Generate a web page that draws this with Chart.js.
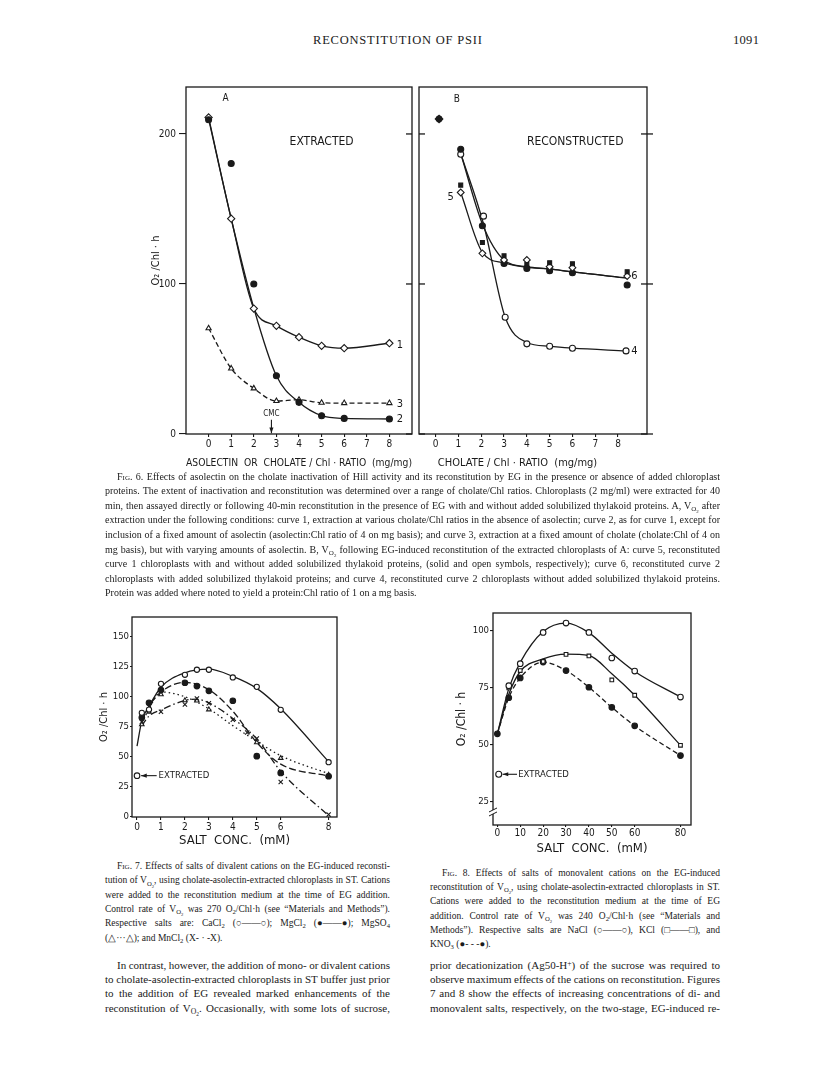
<!DOCTYPE html>
<html>
<head>
<meta charset="utf-8">
<script src="https://cdn.jsdelivr.net/npm/chart.js@4.4.0/dist/chart.umd.min.js"></script>
<style>
  body { margin: 0; background: #fff; }
  #page { position: relative; width: 816px; height: 1073px; overflow: hidden; background: #fff;
          font-family: 'Liberation Serif', 'Times New Roman', serif; color: #1a1a1a; }
  canvas { position: absolute; }
  .abs { position: absolute; white-space: nowrap; }
  .hdr { font-size: 12.5px; letter-spacing: 0.8px; }
  .blk { position: absolute; }
  .ln { white-space: nowrap; }
  .ind { padding-left: 12px; }
  .sc { font-variant: small-caps; }
  sub, sup { font-size: 70%; line-height: 0; }
  sub { vertical-align: -0.35em; }
  sup { vertical-align: 0.45em; }
</style>
</head>
<body>
<div id="page">
  <div class="abs hdr" style="left:313px;top:33px;">RECONSTITUTION OF PSII</div>
  <div class="abs hdr" style="left:733px;top:33px;letter-spacing:0.3px;">1091</div>

  <canvas id="fig6a" width="320" height="420" style="left:100px;top:60px;"></canvas>
  <canvas id="fig6b" width="260" height="420" style="left:400px;top:60px;"></canvas>
  <canvas id="fig7" width="260" height="265" style="left:90px;top:590px;"></canvas>
  <canvas id="fig8" width="255" height="280" style="left:450px;top:586px;"></canvas>

  <div class="blk" style="left:105px;top:469.7px;width:615px;font-size:10px;line-height:14.6px;">
    <div class="ln ind"><span class="sc">Fig.</span> 6. Effects of asolectin on the cholate inactivation of Hill activity and its reconstitution by EG in the presence or absence of added chloroplast</div>
    <div class="ln">proteins. The extent of inactivation and reconstitution was determined over a range of cholate/Chl ratios. Chloroplasts (2 mg/ml) were extracted for 40</div>
    <div class="ln">min, then assayed directly or following 40-min reconstitution in the presence of EG with and without added solubilized thylakoid proteins. A, V<sub>O<sub>2</sub></sub> after</div>
    <div class="ln">extraction under the following conditions: curve 1, extraction at various cholate/Chl ratios in the absence of asolectin; curve 2, as for curve 1, except for</div>
    <div class="ln">inclusion of a fixed amount of asolectin (asolectin:Chl ratio of 4 on mg basis); and curve 3, extraction at a fixed amount of cholate (cholate:Chl of 4 on</div>
    <div class="ln">mg basis), but with varying amounts of asolectin. B, V<sub>O<sub>2</sub></sub> following EG-induced reconstitution of the extracted chloroplasts of A: curve 5, reconstituted</div>
    <div class="ln">curve 1 chloroplasts with and without added solubilized thylakoid proteins, (solid and open symbols, respectively); curve 6, reconstituted curve 2</div>
    <div class="ln">chloroplasts with added solubilized thylakoid proteins; and curve 4, reconstituted curve 2 chloroplasts without added solubilized thylakoid proteins.</div>
    <div class="ln end">Protein was added where noted to yield a protein:Chl ratio of 1 on a mg basis.</div>
  </div>

  <div class="blk" style="left:105px;top:858.8px;width:285px;font-size:9.5px;line-height:14.4px;">
    <div class="ln ind"><span class="sc">Fig.</span> 7. Effects of salts of divalent cations on the EG-induced reconsti-</div>
    <div class="ln">tution of V<sub>O<sub>2</sub></sub>, using cholate-asolectin-extracted chloroplasts in ST. Cations</div>
    <div class="ln">were added to the reconstitution medium at the time of EG addition.</div>
    <div class="ln">Control rate of V<sub>O<sub>2</sub></sub> was 270 O<sub>2</sub>/Chl·h (see “Materials and Methods”).</div>
    <div class="ln">Respective salts are: CaCl<sub>2</sub> (○——○); MgCl<sub>2</sub> (●——●); MgSO<sub>4</sub></div>
    <div class="ln end">(△···△); and MnCl<sub>2</sub> (X- · -X).</div>
  </div>

  <div class="blk" style="left:430px;top:865.9px;width:290px;font-size:9.5px;line-height:14.2px;">
    <div class="ln ind"><span class="sc">Fig.</span> 8. Effects of salts of monovalent cations on the EG-induced</div>
    <div class="ln">reconstitution of V<sub>O<sub>2</sub></sub>, using cholate-asolectin-extracted chloroplasts in ST.</div>
    <div class="ln">Cations were added to the reconstitution medium at the time of EG</div>
    <div class="ln">addition. Control rate of V<sub>O<sub>2</sub></sub> was 240 O<sub>2</sub>/Chl·h (see “Materials and</div>
    <div class="ln">Methods”). Respective salts are NaCl (○——○), KCl (□——□), and</div>
    <div class="ln end">KNO<sub>3</sub> (●- - -●).</div>
  </div>

  <div class="blk" style="left:105px;top:957.8px;width:285px;font-size:11px;line-height:14.3px;">
    <div class="ln ind">In contrast, however, the addition of mono- or divalent cations</div>
    <div class="ln">to cholate-asolectin-extracted chloroplasts in ST buffer just prior</div>
    <div class="ln">to the addition of EG revealed marked enhancements of the</div>
    <div class="ln">reconstitution of V<sub>O<sub>2</sub></sub>. Occasionally, with some lots of sucrose,</div>
  </div>

  <div class="blk" style="left:430px;top:957.8px;width:290px;font-size:11px;line-height:14.3px;">
    <div class="ln">prior decationization (Ag50-H<sup>+</sup>) of the sucrose was required to</div>
    <div class="ln">observe maximum effects of the cations on reconstitution. Figures</div>
    <div class="ln">7 and 8 show the effects of increasing concentrations of di- and</div>
    <div class="ln">monovalent salts, respectively, on the two-stage, EG-induced re-</div>
  </div>
</div>

<script>
// Fig. 6A  extracted chloroplasts
const ratioA = [0, 1, 2, 3, 4, 5, 6, 8];
const curve1 = [211, 143.5, 83.6, 72.1, 64.5, 58.8, 57.2, 60.5];      // open diamonds
const curve2 = [209.5, 180.3, 100, 38.8, 21.1, 12.2, 10.4, 10];       // filled circles
const curve3 = [70.5, 43.7, 30.4, 22, 22.8, 20.8, 20.6, 20.6];        // open triangles
const curve2Line = [210, 143.5, 84, 38.8, 21.1, 12.2, 10.4, 10];      // drawn curve 2
const xTicks6 = [0, 1, 2, 3, 4, 5, 6, 7, 8];
const yTicks6 = [0, 100, 200];

// Fig. 6B  reconstructed
const ratioB0 = [0.15];
const controlB = [210];
const ratioB = [1.1, 2.05, 3, 4, 5, 6, 8.4];
const curve5Open = [161, 120.4, 116, 116, 111.5, 110.9, 105.3];
const curve5Solid = [165.9, 127.7, 118.8, 113, 114.2, 113.5, 108.2];
const curve6 = [189.8, 138.8, 113.7, 110.4, 108.9, 107.5, 99.3];
const ratio4 = [1.1, 2.1, 3.05, 4, 5, 6, 8.35];
const curve4 = [186.5, 145.2, 77.8, 60.1, 58.5, 57.2, 55.4];
const curve5Line = [161, 121, 114, 111, 110, 108, 104];
const curve6Line = [187, 140, 116, 111.5, 110, 108, 104];
const curve4Line = [187, 140, 77.8, 61, 58.5, 57.2, 55.4];

// Fig. 7  divalent salts (mM)
const saltDi = [0.2, 0.5, 1, 2, 2.5, 3, 4, 5, 6, 8];
const cacl2 = [86.7, 89.4, 110.8, 118.3, 122.5, 122.5, 116.1, 108.3, 89.2, 45.6];
const mgcl2 = [82.8, 95, 105.6, 111.7, 108.9, 105, 96.7, 50.6, 36.7, 33.9];
const saltMgSO4 = [0.2, 0.5, 1, 2, 2.5, 3, 5, 6, 8];
const mgso4 = [77, 87.5, 102, 97, 96.7, 89.4, 62, 49, 35];
const saltMnCl2 = [0.2, 1, 2, 2.5, 3, 4, 4.6, 5, 6, 8];
const mncl2 = [79, 87.5, 93.6, 98.6, 94.7, 81, 70.3, 65.3, 29.2, 2];
const cacl2LineX = [0, 0.2, 0.5, 1, 2, 3, 4, 5, 6, 8];
const cacl2Line = [59, 80, 92, 108, 120, 123, 117, 107, 90, 46];
const fitDiX = [0.2, 0.5, 1, 2, 3, 4, 5, 6, 8];
const mgcl2Line = [80, 92, 104, 112, 106, 88, 62, 44, 34];
const mgso4Line = [78, 90, 104, 100, 90, 76, 63, 51, 36];
const mncl2LineX = [0.2, 0.5, 1, 2, 2.5, 3, 4, 5, 6, 8];
const mncl2Line = [76, 84, 89, 97, 98, 95, 82, 65, 38, 1];
const extractedDi = [34.4];
const xTicks7 = [0, 1, 2, 3, 4, 5, 6, 8];
const yTicks7 = [0, 25, 50, 75, 100, 125, 150];

// Fig. 8  monovalent salts (mM)
const saltMono = [0, 5, 10, 20, 30, 40, 50, 60, 80];
const saltMonoPts = [5, 10, 20, 30, 40, 50, 60, 80];
const nacl = [75.8, 85.4, 99.1, 103.2, 99.1, 87.9, 82.2, 70.8];
const kcl = [74.8, 82.4, 86.4, 89.5, 88.8, 78.3, 71.6, 49.7];
const kno3 = [54.7, 70.5, 79.2, 86.1, 82.4, 75.1, 66.3, 58.2, 45.2];
const naclLine = [54.7, 74.5, 86, 99.5, 103.2, 99, 90, 82, 70.8];
const kclLine = [54.7, 72, 82, 87.5, 89.6, 89, 81, 71.6, 49.7];
const extractedMono = [37];
const xTicks8 = [0, 10, 20, 30, 40, 50, 60, 80];
const yTicks8 = [25, 50, 75, 100];

const INK = '#1a1a1a';
const LAB = "'Liberation Sans Narrow', 'DejaVu Sans Condensed', 'Liberation Sans', sans-serif";

const pts = (xs, ys) => xs.map((x, i) => ({ x: x, y: ys[i] }));

function marks(xs, ys, style, fill, r) {
  return { data: pts(xs, ys), showLine: false, pointStyle: style, pointRadius: r,
           pointBackgroundColor: fill, pointBorderColor: INK, pointBorderWidth: 1.1, order: 0 };
}
function curve(xs, ys, dash) {
  return { data: pts(xs, ys), showLine: true, pointRadius: 0, borderColor: INK, borderWidth: 1.3,
           borderDash: dash || [], cubicInterpolationMode: 'monotone', order: 1 };
}

// frame, inner ticks, labels and arrows
const decor = {
  id: 'decor',
  afterDatasetsDraw(chart, args, o) {
    const { ctx, chartArea: a, scales: { x, y } } = chart;
    ctx.save();
    ctx.strokeStyle = INK;
    ctx.fillStyle = INK;
    ctx.lineWidth = 1.3;
    ctx.strokeRect(a.left, a.top, a.right - a.left, a.bottom - a.top);
    (o.side || []).forEach(s => {
      const px = s.at === 'left' ? a.left : a.right;
      y.ticks.forEach(t => {
        const py = y.getPixelForValue(t.value);
        ctx.beginPath(); ctx.moveTo(px + s.from, py); ctx.lineTo(px + s.to, py); ctx.stroke();
      });
    });
    if (o.brk != null) {
      const py = y.getPixelForValue(o.brk);
      ctx.fillStyle = '#fff';
      ctx.fillRect(a.left - 2, py - 2, 4, 4);
      ctx.fillStyle = INK;
      ctx.lineWidth = 1;
      [-2, 2].forEach(d => {
        ctx.beginPath(); ctx.moveTo(a.left - 4, py + d + 2); ctx.lineTo(a.left + 4, py + d - 2); ctx.stroke();
      });
    }
    ctx.lineWidth = 1.1;
    (o.arrows || []).forEach(r => {
      const x1 = x.getPixelForValue(r.x1), y1 = y.getPixelForValue(r.y1);
      const x2 = x.getPixelForValue(r.x2), y2 = y.getPixelForValue(r.y2);
      const ang = Math.atan2(y2 - y1, x2 - x1);
      ctx.beginPath(); ctx.moveTo(x1, y1); ctx.lineTo(x2, y2); ctx.stroke();
      ctx.beginPath();
      ctx.moveTo(x2, y2);
      ctx.lineTo(x2 - 6 * Math.cos(ang - 0.35), y2 - 6 * Math.sin(ang - 0.35));
      ctx.lineTo(x2 - 6 * Math.cos(ang + 0.35), y2 - 6 * Math.sin(ang + 0.35));
      ctx.closePath(); ctx.fill();
    });
    (o.notes || []).forEach(n => {
      ctx.font = (n.size || 11) + 'px ' + LAB;
      ctx.textAlign = n.align || 'center';
      ctx.textBaseline = 'middle';
      ctx.fillText(n.text, x.getPixelForValue(n.x), y.getPixelForValue(n.y));
    });
    ctx.restore();
  }
};

function drawFigure(id, c) {
  return new Chart(document.getElementById(id), {
    type: 'scatter',
    data: { datasets: c.datasets },
    options: {
      responsive: false,
      animation: false,
      events: [],
      layout: { padding: c.pad },
      plugins: { legend: { display: false }, tooltip: { enabled: false }, decor: c.decor },
      scales: {
        x: {
          type: 'linear', min: c.x.min, max: c.x.max,
          afterBuildTicks: s => { s.ticks = c.x.ticks.map(v => ({ value: v })); },
          afterFit: s => { s.height = c.x.h; },
          ticks: { color: INK, font: { family: LAB, size: c.x.fs }, padding: c.x.tp, maxRotation: 0, autoSkip: false },
          grid: { display: true, drawOnChartArea: false, tickLength: c.x.tl, color: INK, lineWidth: 1.1 },
          border: { display: false },
          title: { display: !!c.x.title, text: c.x.title, align: c.x.ta || 'center', color: INK,
                   font: { family: LAB, size: c.x.ts }, padding: 0 }
        },
        y: {
          type: 'linear', min: c.y.min, max: c.y.max,
          afterBuildTicks: s => { s.ticks = c.y.ticks.map(v => ({ value: v })); },
          afterFit: s => { s.width = c.y.w; },
          ticks: { display: c.y.labels !== false, color: INK, font: { family: LAB, size: c.y.fs }, padding: c.y.tp },
          grid: { display: c.y.tl > 0, drawOnChartArea: false, tickLength: c.y.tl, color: INK, lineWidth: 1.1 },
          border: { display: false },
          title: { display: !!c.y.title, text: c.y.title, color: INK, font: { family: LAB, size: c.y.ts }, padding: 0 }
        }
      }
    },
    plugins: [decor]
  });
}

drawFigure('fig6a', {
  pad: { left: 50, top: 27, right: 8, bottom: 10 },
  x: { min: -1, max: 9, ticks: xTicks6, h: 36, fs: 10, tp: 1, tl: 3,
       title: 'ASOLECTIN  OR  CHOLATE / Chl · RATIO  (mg/mg)', ts: 11 },
  y: { min: 0, max: 231.3, ticks: yTicks6, w: 36, fs: 10, tp: 3, tl: 7, title: 'O₂ /Chl · h', ts: 11 },
  decor: {
    side: [{ at: 'right', from: 0, to: -6 }],
    arrows: [{ x1: 2.78, y1: 9.5, x2: 2.78, y2: 0.5 }],
    notes: [
      { x: 0.75, y: 224, text: 'A', size: 10 },
      { x: 5, y: 195, text: 'EXTRACTED', size: 12 },
      { x: 8.47, y: 59.5, text: '1', size: 11 },
      { x: 8.47, y: 20, text: '3', size: 11 },
      { x: 8.47, y: 10, text: '2', size: 11 },
      { x: 2.78, y: 13.5, text: 'CMC', size: 8 }
    ]
  },
  datasets: [
    marks(ratioA, curve2, 'circle', INK, 3),
    marks(ratioA, curve1, 'rectRot', '#fff', 3.6),
    marks(ratioA, curve3, 'triangle', '#fff', 3),
    curve(ratioA, curve1),
    curve(ratioA, curve2Line),
    curve(ratioA, curve3, [5, 3])
  ]
});

drawFigure('fig6b', {
  pad: { left: 0, top: 27, right: 13, bottom: 10 },
  x: { min: -0.73, max: 9.27, ticks: xTicks6, h: 36, fs: 10, tp: 1, tl: 3,
       title: '      CHOLATE / Chl · RATIO  (mg/mg)', ta: 'start', ts: 11 },
  y: { min: 0, max: 231.3, ticks: yTicks6, w: 19, fs: 10, tp: 0, tl: 0, labels: false },
  decor: {
    side: [{ at: 'left', from: 0, to: 6 }, { at: 'right', from: -6, to: 6 }],
    notes: [
      { x: 0.93, y: 223, text: 'B', size: 10 },
      { x: 6.12, y: 195, text: 'RECONSTRUCTED', size: 12 },
      { x: 0.66, y: 158, text: '5', size: 11 },
      { x: 8.72, y: 105, text: '6', size: 11 },
      { x: 8.72, y: 55.5, text: '4', size: 11 }
    ]
  },
  datasets: [
    marks(ratioB0, controlB, 'circle', INK, 2.8),
    marks(ratioB0, controlB, 'rectRot', '#fff', 3.8),
    marks(ratioB, curve5Solid, 'rect', INK, 2.8),
    marks(ratioB, curve5Open, 'rectRot', '#fff', 3.4),
    marks(ratioB, curve6, 'circle', INK, 3),
    marks(ratio4, curve4, 'circle', '#fff', 3),
    curve(ratioB, curve5Line),
    curve(ratioB, curve6Line),
    curve(ratio4, curve4Line)
  ]
});

drawFigure('fig7', {
  pad: { left: 8, top: 27, right: 13, bottom: 7 },
  x: { min: -0.21, max: 8.35, ticks: xTicks7, h: 31, fs: 10, tp: 1, tl: 3, title: 'SALT  CONC.  (mM)', ts: 13 },
  y: { min: 0, max: 166.4, ticks: yTicks7, w: 34, fs: 9.5, tp: 1, tl: 2, title: 'O₂ /Chl · h', ts: 11 },
  decor: {
    arrows: [{ x1: 0.82, y1: 34.4, x2: 0.17, y2: 34.4 }],
    notes: [{ x: 0.9, y: 34.4, text: 'EXTRACTED', size: 9.5, align: 'left' }]
  },
  datasets: [
    marks([0], extractedDi, 'circle', '#fff', 2.8),
    marks(saltDi, cacl2, 'circle', '#fff', 2.6),
    marks(saltDi, mgcl2, 'circle', INK, 2.8),
    marks(saltMgSO4, mgso4, 'triangle', '#fff', 2.6),
    marks(saltMnCl2, mncl2, 'crossRot', '#fff', 3),
    curve(cacl2LineX, cacl2Line),
    curve(fitDiX, mgcl2Line, [7, 3]),
    curve(fitDiX, mgso4Line, [1.5, 3]),
    curve(mncl2LineX, mncl2Line, [7, 3, 1.5, 3])
  ]
});

drawFigure('fig8', {
  pad: { left: 5, top: 27, right: 14, bottom: 10 },
  x: { min: -1.9, max: 84.6, ticks: xTicks8, h: 31, fs: 10, tp: 0, tl: 2, title: 'SALT  CONC.  (mM)', ts: 13 },
  y: { min: 14.8, max: 107.6, ticks: yTicks8, w: 38, fs: 9.5, tp: 1, tl: 3, title: 'O₂ /Chl · h', ts: 12 },
  decor: {
    brk: 20.5,
    arrows: [{ x1: 8.6, y1: 37, x2: 2.3, y2: 37 }],
    notes: [{ x: 9.1, y: 37, text: 'EXTRACTED', size: 9.5, align: 'left' }]
  },
  datasets: [
    marks([0.6], extractedMono, 'circle', '#fff', 3),
    marks(saltMonoPts, nacl, 'circle', '#fff', 2.8),
    marks(saltMonoPts, kcl, 'rect', '#fff', 2.6),
    marks(saltMono, kno3, 'circle', INK, 2.8),
    curve(saltMono, naclLine),
    curve(saltMono, kclLine),
    curve(saltMono, kno3, [5, 3])
  ]
});

// justify the text lines to the column width
document.querySelectorAll('.blk').forEach(b => {
  const W = b.clientWidth;
  b.querySelectorAll('.ln:not(.end)').forEach(l => {
    l.style.display = 'inline-block';
    const natural = l.getBoundingClientRect().width;
    l.style.display = '';
    const gaps = (l.textContent.match(/ /g) || []).length;
    if (gaps) l.style.wordSpacing = ((W - natural) / gaps) + 'px';
  });
});
</script>
</body>
</html>
